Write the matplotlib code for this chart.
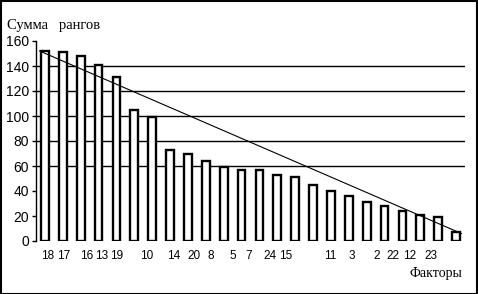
import matplotlib
matplotlib.use('Agg')
import matplotlib.pyplot as plt
from matplotlib.patches import Rectangle
import numpy as np

# ── Data ──────────────────────────────────────────────────────
rank_sums = [152, 151, 148, 141, 131, 105, 99, 73, 70, 64, 59, 57,
             57, 53, 51, 45, 40, 36, 31, 28, 24, 21, 19, 7]
# factor numbers as they are typed under the axis (not one per bar)
factor_labels = ["18", "17", "16", "13", "19", "10", "14", "20", "8", "5",
                 "7", "24", "15", "11", "3", "2", "22", "12", "23"]
# trend line end values (from first bar top to last bar top)
trend_start = 152
trend_end = 6
grid_levels = [60, 80, 100, 120, 140]

# ── Layout ────────────────────────────────────────────────────
W, H = 478, 294
label_px = [48, 64, 87, 102, 117, 147, 174, 194, 211, 233, 249, 270, 286,
            330, 352, 377, 393, 410, 431]

fig = plt.figure(figsize=(W / 100, H / 100), dpi=100)
fig.patch.set_facecolor("white")
ax = fig.add_axes([36 / W, 1 - 241 / H, (465 - 36) / W, 200 / H])

x = np.arange(len(rank_sums))
ax.bar(x, rank_sums, width=0.44, color="white", edgecolor="black",
       linewidth=1.7, zorder=3)

for g in grid_levels:
    ax.axhline(g, color="black", linewidth=1.0, zorder=1)

ax.plot([-0.3, len(rank_sums) - 0.7], [trend_start, trend_end],
        color="black", linewidth=0.8, zorder=4)

ax.set_xlim(-0.5, len(rank_sums) - 0.5)
ax.set_ylim(0, 160)
ax.set_yticks(range(0, 161, 20))
ax.set_yticklabels([str(v) for v in range(0, 161, 20)],
                   fontsize=10, family="Liberation Sans")
ax.tick_params(axis="y", length=3, width=1, pad=2)
ax.set_xticks([])
for side in ["top", "right", "bottom"]:
    ax.spines[side].set_visible(False)
ax.spines["left"].set_linewidth(1.0)

# factor labels typed under the axis
to_data = lambda px: (px - 45) / ((465 - 36) / len(rank_sums))
for lab, px in zip(factor_labels, label_px):
    ax.text(to_data(px), -12, lab, ha="center", va="center",
            fontsize=8.5, family="Liberation Sans", clip_on=False)

fig.text(7 / W, 1 - 25 / H, "Сумма   рангов", ha="left", va="center",
         fontsize=10.5, family="Liberation Serif")
fig.text(462 / W, 1 - 273 / H, "Факторы", ha="right", va="center",
         fontsize=10, family="Liberation Serif")

fig.patches.append(Rectangle((0.5 / W, 0.5 / H), 1 - 1.5 / W, 1 - 1.5 / H,
                             transform=fig.transFigure, fill=False,
                             edgecolor="black", linewidth=1.5))

fig.savefig("out.png", dpi=100)
